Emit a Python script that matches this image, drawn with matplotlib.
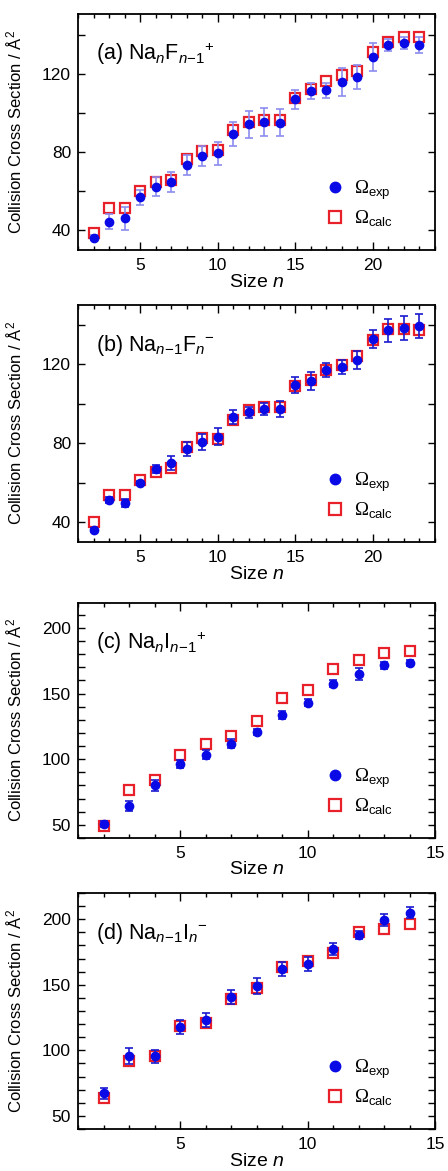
import matplotlib
matplotlib.use("Agg")
import matplotlib.pyplot as plt
from matplotlib.ticker import MultipleLocator

plt.rcParams["font.family"] = ["Liberation Sans", "DejaVu Sans"]
plt.rcParams["mathtext.fontset"] = "custom"
plt.rcParams["mathtext.rm"] = "Liberation Sans"
plt.rcParams["mathtext.it"] = "Liberation Sans:italic"
plt.rcParams["mathtext.sf"] = "Liberation Sans"
plt.rcParams["mathtext.cal"] = "Liberation Serif"

# cluster sizes
n_f = list(range(2, 24))
n_i = list(range(2, 15))

# (a) NanFn-1+
a_exp = [36.4, 44.6, 46.3, 57.0, 62.5, 64.9, 73.7, 78.3, 79.5, 89.4, 94.5,
         95.7, 95.3, 107.2, 111.5, 111.8, 116.1, 118.8, 128.9, 135.1, 136.0, 135.1]
a_err = [1.5, 4, 6, 4, 5, 5, 5, 5, 6, 6, 7, 7, 7, 5, 4, 4, 7, 6, 7, 3, 3, 4]
a_calc = [38.6, 51.7, 51.7, 60.3, 65.0, 65.9, 76.6, 80.9, 81.5, 91.4, 95.7,
          96.5, 96.5, 107.7, 112.7, 116.4, 119.8, 121.7, 131.7, 136.5, 139.1, 139.4]

# (b) Nan-1Fn-
b_exp = [36.3, 51.1, 49.7, 59.8, 67.0, 69.9, 77.0, 80.5, 83.4, 93.1, 95.6,
         97.3, 97.3, 109.4, 111.6, 117.0, 118.7, 122.0, 132.9, 137.1, 138.5, 139.2]
b_err = [1, 1.5, 2, 1, 2, 3.5, 3.5, 4, 4.5, 3.5, 3, 3, 4, 4, 4.5, 3.5, 3.5,
         4.5, 4.5, 6, 6, 6]
b_calc = [40.2, 53.6, 53.6, 61.5, 65.2, 67.4, 78.3, 82.5, 82.2, 91.8, 96.8,
          98.5, 98.2, 108.9, 111.9, 117.0, 119.5, 124.0, 132.4, 137.6, 138.0, 137.1]

# (c) NanIn-1+
c_exp = [50.8, 64.2, 80.0, 96.5, 103.6, 111.8, 120.7, 133.9, 143.0, 157.5,
         164.7, 171.5, 173.3]
c_err = [2.5, 4, 4.5, 3, 3.5, 3.5, 2, 3, 2.5, 2.5, 4.5, 2.5, 2.5]
c_calc = [49.5, 76.2, 84.3, 102.9, 111.8, 117.4, 129.1, 146.9, 152.5, 169.0,
          175.3, 181.2, 182.5]

# (d) Nan-1In-
d_exp = [67.2, 95.6, 95.6, 117.9, 123.0, 140.5, 148.8, 162.0, 165.8, 177.2,
         188.1, 199.5, 205.1]
d_err = [4, 6, 5, 5.5, 5.5, 5.5, 6, 5.5, 5.5, 4.5, 3, 4.5, 4.5]
d_calc = [63.9, 91.8, 95.6, 118.9, 121.0, 139.2, 147.6, 163.5, 167.8, 174.2,
          190.1, 192.4, 196.2]

titles = [
    r"(a) Na$_{\mathit{n}}$F$_{\mathit{n}\mathrm{-1}}$$^{\mathrm{+}}$",
    r"(b) Na$_{\mathit{n}\mathrm{-1}}$F$_{\mathit{n}}$$^{\mathrm{-}}$",
    r"(c) Na$_{\mathit{n}}$I$_{\mathit{n}\mathrm{-1}}$$^{\mathrm{+}}$",
    r"(d) Na$_{\mathit{n}\mathrm{-1}}$I$_{\mathit{n}}$$^{\mathrm{-}}$",
]

panels = [
    (n_f, a_exp, a_err, a_calc, (1, 24), (30, 151), 40, 20, "#8c8cf0"),
    (n_f, b_exp, b_err, b_calc, (1, 24), (30, 150), 40, 20, "#1a1ad0"),
    (n_i, c_exp, c_err, c_calc, (1, 15), (40, 219), 50, 10, "#1a1ad0"),
    (n_i, d_exp, d_err, d_calc, (1, 15), (40, 220), 50, 10, "#1a1ad0"),
]

# axes boxes in pixels: (top, bottom)
boxes = [(14, 250), (305, 542), (603, 838), (893, 1129)]

W, H = 448, 1171
fig = plt.figure(figsize=(W / 100, H / 100), dpi=100)

for (top, bot), title, (n, exp, err, calc, xl, yl, ymaj, ymin, ecol) in zip(boxes, titles, panels):
    ax = fig.add_axes([78 / W, 1 - bot / H, 357 / W, (bot - top) / H])

    ax.plot(n, calc, ls="none", marker="s", ms=7, mfc="white",
            mec="#e8202a", mew=1.6, label=r"$\mathcal{\Omega}_{\mathrm{calc}}$", zorder=2)
    ax.errorbar(n, exp, yerr=err, fmt="none", ecolor=ecol, elinewidth=1.2,
                capsize=3, capthick=1.2, zorder=3)
    ax.plot(n, exp, ls="none", marker="o", ms=6, color="#0a0ae6",
            label=r"$\mathcal{\Omega}_{\mathrm{exp}}$", zorder=4)

    ax.set_xlim(*xl)
    ax.set_ylim(*yl)
    ax.xaxis.set_major_locator(MultipleLocator(5))
    ax.xaxis.set_minor_locator(MultipleLocator(1))
    ax.yaxis.set_major_locator(MultipleLocator(ymaj))
    ax.yaxis.set_minor_locator(MultipleLocator(ymin))
    ax.tick_params(which="both", direction="in", top=True, right=True, width=1)
    ax.tick_params(axis="x", which="major", length=6, pad=6, labelsize=12.5)
    ax.tick_params(axis="x", which="minor", length=3)
    ax.tick_params(axis="y", which="both", length=5, pad=5, labelsize=12.5)
    for s in ax.spines.values():
        s.set_linewidth(1.3)

    ax.set_xlabel(r"Size $\mathit{n}$", fontsize=14, labelpad=0)
    ax.xaxis.set_label_coords(0.5, -0.1)
    ax.set_ylabel("Collision Cross Section / Å$^{\\mathrm{2}}$", fontsize=12)
    ax.yaxis.set_label_coords(-0.15, 0.5)

    ax.text(0.05, 0.83, title, transform=ax.transAxes, fontsize=15.5,
            va="center", ha="left")

    h, lab = ax.get_legend_handles_labels()
    ax.legend(h[::-1], lab[::-1], loc="lower right", bbox_to_anchor=(0.93, 0.02),
              frameon=False, fontsize=13.5, handletextpad=0.5, handlelength=1.0,
              labelspacing=0.35, markerscale=1.25)

fig.savefig("out.png", dpi=100)
